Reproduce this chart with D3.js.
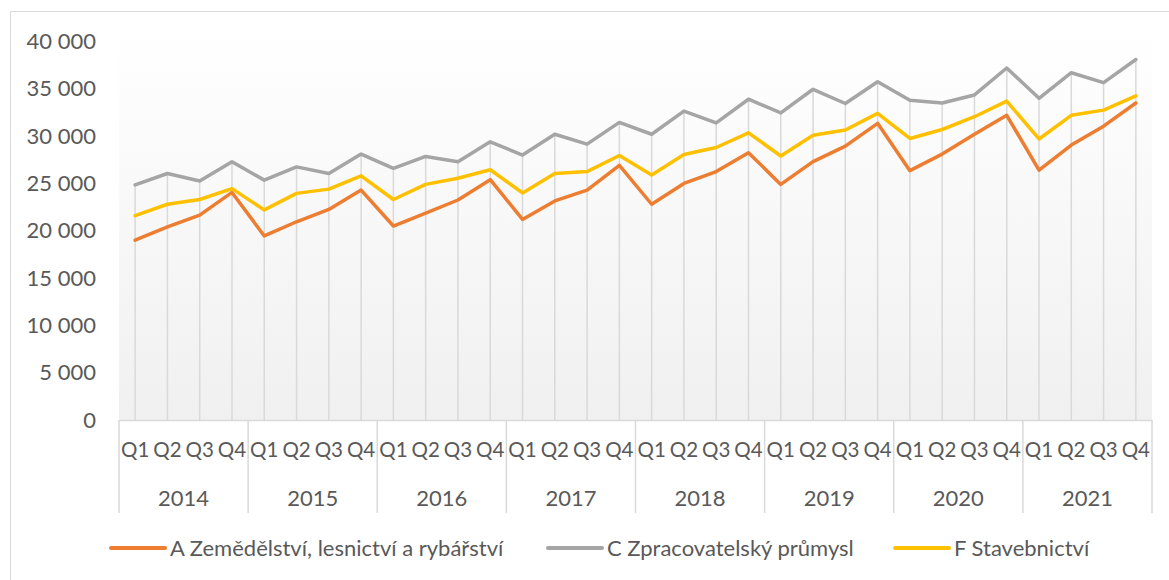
<!DOCTYPE html>
<html>
<head>
<meta charset="utf-8">
<script src="https://cdn.jsdelivr.net/npm/d3@7"></script>
<style>
  body { margin: 0; background: #fff; }
  text { font-family: Lato, 'Open Sans', sans-serif; fill: #595959; }
</style>
</head>
<body>
<svg id="chart" width="1169" height="580"></svg>
<script>
'use strict';

const years = ['2014', '2015', '2016', '2017', '2018', '2019', '2020', '2021'];
const quarters = ['Q1', 'Q2', 'Q3', 'Q4'];
const yTicks = [0, 5000, 10000, 15000, 20000, 25000, 30000, 35000, 40000];

// A Zemědělství, lesnictví a rybářství
const zemedelstvi = [
  19000, 20400, 21650, 24050, 19450, 20950, 22250, 24300,
  20500, 21850, 23250, 25400, 21200, 23150, 24300, 26900,
  22800, 25000, 26250, 28250, 24900, 27300, 28950, 31350,
  26350, 28100, 30200, 32200, 26400, 29050, 31050, 33500,
];
// C Zpracovatelský průmysl
const zpracovatelsky = [
  24850, 26050, 25250, 27300, 25350, 26750, 26050, 28100,
  26600, 27850, 27300, 29400, 28000, 30200, 29150, 31450,
  30200, 32650, 31400, 33900, 32450, 34950, 33450, 35750,
  33800, 33500, 34350, 37200, 34000, 36700, 35650, 38100,
];
// F Stavebnictví
const stavebnictvi = [
  21600, 22800, 23300, 24450, 22200, 23950, 24400, 25800,
  23300, 24900, 25550, 26450, 24000, 26050, 26250, 27950,
  25900, 28050, 28800, 30350, 27900, 30100, 30650, 32400,
  29750, 30700, 32050, 33700, 29700, 32200, 32750, 34250,
];

const series = [
  { name: 'A Zemědělství, lesnictví a rybářství', values: zemedelstvi, color: '#ED7D31' },
  { name: 'C Zpracovatelský průmysl', values: zpracovatelsky, color: '#A5A5A5' },
  { name: 'F Stavebnictví', values: stavebnictvi, color: '#FFC000' },
];

const opts = {
  left: 119,
  right: 1152,
  top: 41.5,
  bottom: 420,
  lineWidth: 3.5,
  fontSize: '22px',
  quarterFontSize: '20.5px',
};

const svg = d3.select('#chart');

const periods = years.flatMap((y) => quarters.map((q) => y + ' ' + q));

const x = d3
  .scaleBand()
  .domain(d3.range(periods.length))
  .range([opts.left, opts.right]);

const xYear = d3.scaleBand().domain(years).range([opts.left, opts.right]);

const y = d3.scaleLinear().domain([0, 40000]).range([opts.bottom, opts.top]);

const cx = (i) => x(i) + x.bandwidth() / 2;

const fmt = d3.formatLocale({ thousands: ' ', grouping: [3], decimal: ',' }).format(',d');

// chart frame
svg
  .append('rect')
  .attr('x', 10.5)
  .attr('y', 11.5)
  .attr('width', 1200)
  .attr('height', 600)
  .attr('fill', '#fff')
  .attr('stroke', '#d9d9d9');

// plot area gradient
const defs = svg.append('defs');
const grad = defs
  .append('linearGradient')
  .attr('id', 'plotGrad')
  .attr('x1', 0)
  .attr('y1', 0)
  .attr('x2', 0)
  .attr('y2', 1);
grad.append('stop').attr('offset', '0%').attr('stop-color', '#ffffff');
grad.append('stop').attr('offset', '100%').attr('stop-color', '#f0f0f0');

svg
  .append('rect')
  .attr('x', opts.left)
  .attr('y', 30)
  .attr('width', opts.right - opts.left)
  .attr('height', opts.bottom - 30)
  .attr('fill', 'url(#plotGrad)');

// drop lines from highest series to the axis
const maxAt = (i) => d3.max(series, (s) => s.values[i]);
svg
  .append('g')
  .attr('class', 'dropLines')
  .selectAll('line')
  .data(d3.range(periods.length))
  .join('line')
  .attr('x1', cx)
  .attr('x2', cx)
  .attr('y1', (i) => y(maxAt(i)))
  .attr('y2', y(0))
  .attr('stroke', '#d9d9d9')
  .attr('stroke-width', 1.5);

// y axis
const yAxis = svg
  .append('g')
  .attr('transform', 'translate(96,0)')
  .call(
    d3
      .axisLeft(y)
      .tickValues(yTicks)
      .tickSize(0)
      .tickPadding(0)
      .tickFormat(fmt)
  );
yAxis.select('.domain').remove();
yAxis
  .selectAll('text')
  .style('font-size', opts.fontSize)
  .style('font-family', null)
  .attr('fill', null);

// x axis: quarters
const xAxis = svg
  .append('g')
  .attr('transform', `translate(0,${opts.bottom})`)
  .call(
    d3
      .axisBottom(x)
      .tickSize(0)
      .tickPadding(0)
      .tickFormat((i) => quarters[i % 4])
  );
xAxis.select('.domain').attr('stroke', '#d9d9d9').attr('stroke-width', 1.5);
xAxis
  .selectAll('text')
  .attr('y', 37)
  .attr('dy', 0)
  .style('font-size', opts.quarterFontSize)
  .style('font-family', null)
  .attr('fill', null);

// x axis: years
svg
  .append('g')
  .selectAll('text')
  .data(years)
  .join('text')
  .attr('x', (d) => xYear(d) + xYear.bandwidth() / 2)
  .attr('y', 506)
  .attr('text-anchor', 'middle')
  .style('font-size', opts.fontSize)
  .text((d) => d);

// year separators
svg
  .append('g')
  .selectAll('line')
  .data(years.concat(['end']))
  .join('line')
  .attr('x1', (d) => (d === 'end' ? opts.right : xYear(d)))
  .attr('x2', (d) => (d === 'end' ? opts.right : xYear(d)))
  .attr('y1', opts.bottom)
  .attr('y2', 513)
  .attr('stroke', '#d9d9d9')
  .attr('stroke-width', 1.5);

// series lines
const line = d3
  .line()
  .x((d, i) => cx(i))
  .y((d) => y(d));

svg
  .append('g')
  .selectAll('path')
  .data(series)
  .join('path')
  .attr('d', (s) => line(s.values))
  .attr('fill', 'none')
  .attr('stroke', (s) => s.color)
  .attr('stroke-width', opts.lineWidth)
  .attr('stroke-linejoin', 'round')
  .attr('stroke-linecap', 'round');

// legend
const legendX = [111, 548, 895];
const legend = svg
  .append('g')
  .selectAll('g')
  .data(series)
  .join('g')
  .attr('transform', (s, i) => `translate(${legendX[i]},548)`);
legend
  .append('line')
  .attr('x1', 0)
  .attr('x2', 54)
  .attr('stroke', (s) => s.color)
  .attr('stroke-width', 4)
  .attr('stroke-linecap', 'round');
legend
  .append('text')
  .attr('x', 59)
  .attr('dy', '0.35em')
  .style('font-size', opts.fontSize)
  .text((s) => s.name);
</script>
</body>
</html>
